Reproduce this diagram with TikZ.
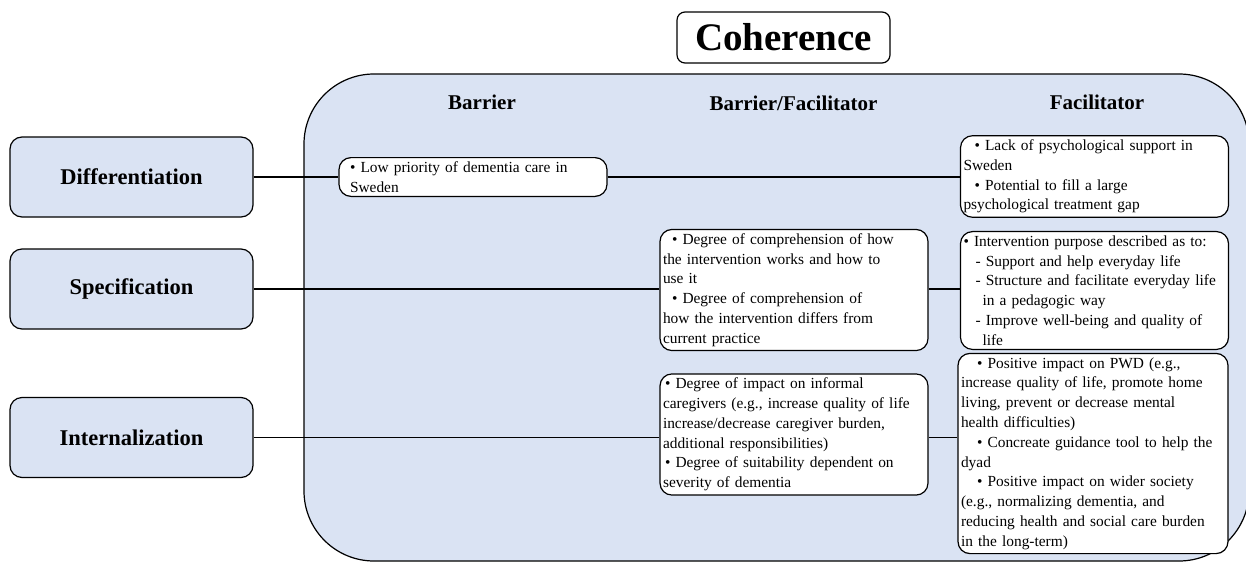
\documentclass[tikz,border=0pt]{standalone}
\usepackage{fontspec}
\setmainfont{Liberation Serif}
\definecolor{boxblue}{HTML}{DAE3F3}
\newcommand{\bul}[1]{\hspace*{#1pt}\textbullet\ }
\begin{document}
\begin{tikzpicture}[x=1pt,y=-1pt,
  every node/.style={inner sep=0pt},
  dimbox/.style={draw=black, line width=1.2pt, fill=boxblue, rounded corners=12pt,
    minimum width=243pt, minimum height=80pt, font=\fontsize{22.5}{25}\selectfont\bfseries},
  colhead/.style={font=\fontsize{21}{24}\selectfont\bfseries},
  tbox/.style={draw=black, line width=1.2pt, fill=white, rounded corners=12pt,
    inner xsep=3pt, inner ysep=4pt, align=left, text width=262pt,
    font=\fontsize{15.4}{19.8}\selectfont},
  link/.style={line width=1.2pt}
]
\useasboundingbox (0,0) rectangle (1246,562);
% container
\draw[line width=1.2pt, fill=boxblue, rounded corners=70pt] (304,74) rectangle (1249,561);
% title
\node[draw=black, line width=1.2pt, fill=white, rounded corners=8pt, minimum width=213pt,
  minimum height=51pt, font=\fontsize{39}{44}\selectfont\bfseries] (coh) at (783.5,37.5) {Coherence};
% column headers
\node[colhead] (hb) at (482,102) {Barrier};
\node[colhead] (hbf) at (793.5,103) {Barrier/Facilitator};
\node[colhead] (hf) at (1097,102) {Facilitator};
% dimension boxes
\node[dimbox] (diff) at (131.5,177) {Differentiation};
\node[dimbox] (spec) at (131.5,289) {Specification};
\node[dimbox] (intl) at (131.5,437.5) {Internalization};
% text boxes
\node[tbox, inner xsep=11pt, text width=246pt] (low) at (473,177) {\bul{0}Low priority of dementia care in\\Sweden};
\node[tbox] (lack) at (1094.5,176.5) {\bul{11}Lack of psychological support in\\Sweden\\\bul{11}Potential to fill a large\\psychological treatment gap};
\node[tbox] (comp) at (794,290) {\bul{9}Degree of comprehension of how\\the intervention works and how to\\use it\\\bul{9}Degree of comprehension of\\how the intervention differs from\\current practice};
\node[tbox] (purp) at (1094.5,290.5) {\textbullet\ Intervention purpose described as to:\\\hspace*{12pt}- Support and help everyday life\\\hspace*{12pt}- Structure and facilitate everyday life\\\hspace*{19pt}in a pedagogic way\\\hspace*{12pt}- Improve well-being and quality of\\\hspace*{19pt}life};
\node[tbox] (imp) at (794,434.5) {\bul{2}Degree of impact on informal\\caregivers (e.g., increase quality of life\\increase/decrease caregiver burden,\\additional responsibilities)\\\bul{2}Degree of suitability dependent on\\severity of dementia};
\node[tbox, text width=264pt] (pos) at (1093,453.5) {\bul{16}Positive impact on PWD (e.g.,\\increase quality of life, promote home\\living, prevent or decrease mental\\health difficulties)\\\bul{16}Concreate guidance tool to help the\\dyad\\\bul{16}Positive impact on wider society\\(e.g., normalizing dementia, and\\reducing health and social care burden\\in the long-term)};
% connectors
\draw[link] (diff.east) -- (diff.east -| low.west);
\draw[link] (low.east) -- (low.east -| lack.west);
\draw[link] (spec.east) -- (spec.east -| comp.west);
\draw[link] (spec.east -| comp.east) -- (spec.east -| purp.west);
\draw[link] (intl.east) -- (intl.east -| imp.west);
\draw[link] (intl.east -| imp.east) -- (intl.east -| pos.west);
\end{tikzpicture}
\end{document}
